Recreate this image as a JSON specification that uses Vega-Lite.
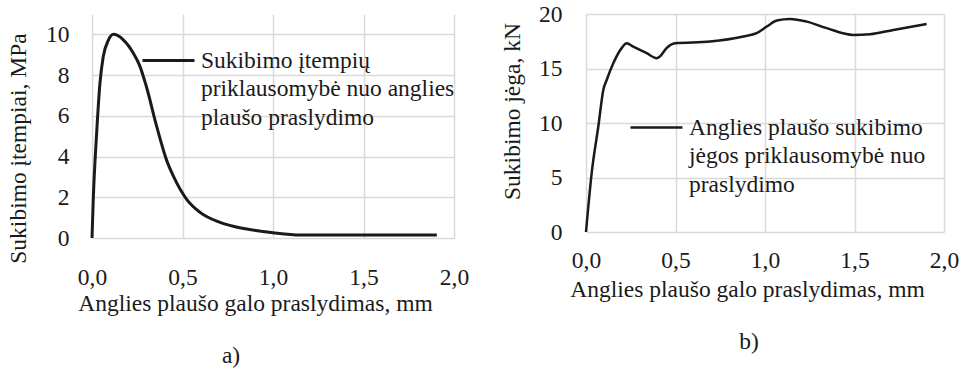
{
  "$schema": "https://vega.github.io/schema/vega-lite/v6.json",
  "background": "white",
  "padding": {"left": 6, "top": 2, "right": 5, "bottom": 5},
  "config": {
    "font": "Liberation Serif",
    "view": {"stroke": null},
    "axis": {
      "domain": false, "ticks": false, "grid": true, "gridColor": "#d9d9d9", "gridWidth": 1.5, "labelFlush": false, "labelOverlap": false,
      "labelFont": "Liberation Serif", "labelFontSize": 23.5, "labelColor": "#1a1a1a",
      "titleFont": "Liberation Serif", "titleFontSize": 23.5, "titleFontWeight": "normal", "titleColor": "#1a1a1a"
    },
    "legend": {"labelFont": "Liberation Serif", "labelFontSize": 23.5, "labelColor": "#1a1a1a"},
    "style": {"guide-label": {"lineHeight": 28.5}},
    "concat": {"spacing": 132}
  },
  "bounds": "flush",
  "datasets": {
    "stress": [
      {"slip": 0.0, "value": 0.0, "series": "a"},
      {"slip": 0.007, "value": 1.9, "series": "a"},
      {"slip": 0.026, "value": 5.2, "series": "a"},
      {"slip": 0.044, "value": 7.6, "series": "a"},
      {"slip": 0.062, "value": 8.9, "series": "a"},
      {"slip": 0.09, "value": 9.7, "series": "a"},
      {"slip": 0.118, "value": 10.0, "series": "a"},
      {"slip": 0.173, "value": 9.73, "series": "a"},
      {"slip": 0.228, "value": 9.08, "series": "a"},
      {"slip": 0.265, "value": 8.43, "series": "a"},
      {"slip": 0.30, "value": 7.45, "series": "a"},
      {"slip": 0.357, "value": 5.49, "series": "a"},
      {"slip": 0.413, "value": 3.8, "series": "a"},
      {"slip": 0.449, "value": 3.05, "series": "a"},
      {"slip": 0.523, "value": 1.9, "series": "a"},
      {"slip": 0.597, "value": 1.26, "series": "a"},
      {"slip": 0.707, "value": 0.77, "series": "a"},
      {"slip": 0.855, "value": 0.44, "series": "a"},
      {"slip": 1.0, "value": 0.26, "series": "a"},
      {"slip": 1.15, "value": 0.15, "series": "a"},
      {"slip": 1.4, "value": 0.15, "series": "a"},
      {"slip": 1.905, "value": 0.15, "series": "a"}
    ],
    "force": [
      {"slip": 0.0, "value": 0.0, "series": "b"},
      {"slip": 0.032, "value": 5.45, "series": "b"},
      {"slip": 0.069, "value": 9.7, "series": "b"},
      {"slip": 0.097, "value": 13.06, "series": "b"},
      {"slip": 0.116, "value": 13.97, "series": "b"},
      {"slip": 0.153, "value": 15.5, "series": "b"},
      {"slip": 0.199, "value": 16.87, "series": "b"},
      {"slip": 0.227, "value": 17.32, "series": "b"},
      {"slip": 0.264, "value": 17.0, "series": "b"},
      {"slip": 0.339, "value": 16.4, "series": "b"},
      {"slip": 0.395, "value": 15.95, "series": "b"},
      {"slip": 0.413, "value": 16.1, "series": "b"},
      {"slip": 0.45, "value": 16.87, "series": "b"},
      {"slip": 0.497, "value": 17.32, "series": "b"},
      {"slip": 0.693, "value": 17.47, "series": "b"},
      {"slip": 0.879, "value": 17.93, "series": "b"},
      {"slip": 0.953, "value": 18.24, "series": "b"},
      {"slip": 1.01, "value": 18.85, "series": "b"},
      {"slip": 1.066, "value": 19.4, "series": "b"},
      {"slip": 1.14, "value": 19.54, "series": "b"},
      {"slip": 1.233, "value": 19.3, "series": "b"},
      {"slip": 1.345, "value": 18.7, "series": "b"},
      {"slip": 1.493, "value": 18.08, "series": "b"},
      {"slip": 1.587, "value": 18.14, "series": "b"},
      {"slip": 1.717, "value": 18.54, "series": "b"},
      {"slip": 1.903, "value": 19.09, "series": "b"}
    ]
  },
  "hconcat": [
    {
      "width": 362, "height": 224,
      "data": {"name": "stress"},
      "title": {"text": "a)", "orient": "bottom", "offset": 29, "dx": -42, "fontSize": 23.5, "font": "Liberation Serif", "fontWeight": "normal", "color": "#1a1a1a"},
      "mark": {"type": "line", "interpolate": "monotone", "strokeWidth": 3, "color": "#1a1a1a"},
      "encoding": {
        "x": {"field": "slip", "type": "quantitative", "scale": {"domain": [0, 2], "nice": false},
          "axis": {"values": [0, 0.5, 1, 1.5, 2], "labelExpr": "replace(format(datum.value, '.1f'), '.', ',')", "labelPadding": 27, "titlePadding": 3, "title": "Anglies plaušo galo praslydimas, mm", "titleX": 163}},
        "y": {"field": "value", "type": "quantitative", "scale": {"domain": [0, 11], "nice": false},
          "axis": {"values": [0, 2, 4, 6, 8, 10], "labelPadding": 23, "titlePadding": 15, "title": "Sukibimo įtempiai, MPa", "titleY": 134}},
        "color": {"field": "series", "type": "nominal", "scale": {"range": ["#1a1a1a"]},
          "legend": {"orient": "none", "legendX": 49, "legendY": 19, "title": null, "padding": 0,
            "symbolType": "stroke", "symbolSize": 2700, "symbolStrokeWidth": 3, "labelOffset": 5, "labelLimit": 500, "labelBaseline": "middle",
            "labelExpr": "['Sukibimo įtempių', 'priklausomybė nuo anglies', 'plaušo praslydimo']"}}
      }
    },
    {
      "width": 358, "height": 218,
      "data": {"name": "force"},
      "title": {"text": "b)", "orient": "bottom", "offset": 29, "dx": -16, "fontSize": 23.5, "font": "Liberation Serif", "fontWeight": "normal", "color": "#1a1a1a"},
      "mark": {"type": "line", "interpolate": "monotone", "strokeWidth": 2.5, "color": "#1a1a1a"},
      "encoding": {
        "x": {"field": "slip", "type": "quantitative", "scale": {"domain": [0, 2], "nice": false},
          "axis": {"values": [0, 0.5, 1, 1.5, 2], "labelExpr": "replace(format(datum.value, '.1f'), '.', ',')", "labelPadding": 16, "titlePadding": 6, "title": "Anglies plaušo galo praslydimas, mm", "titleX": 161}},
        "y": {"field": "value", "type": "quantitative", "scale": {"domain": [0, 20], "nice": false},
          "axis": {"values": [0, 5, 10, 15, 20], "labelPadding": 24, "titlePadding": 14, "title": "Sukibimo jėga, kN", "titleY": 97}},
        "color": {"field": "series", "type": "nominal", "scale": {"range": ["#1a1a1a"]},
          "legend": {"orient": "none", "legendX": 43, "legendY": 86, "title": null, "padding": 0,
            "symbolType": "stroke", "symbolSize": 2700, "symbolStrokeWidth": 2.5, "labelOffset": 5, "labelLimit": 500, "labelBaseline": "middle",
            "labelExpr": "['Anglies plaušo sukibimo', 'jėgos priklausomybė nuo', 'praslydimo']"}}
      }
    }
  ],
  "resolve": {"scale": {"color": "independent"}, "legend": {"color": "independent"}}
}
